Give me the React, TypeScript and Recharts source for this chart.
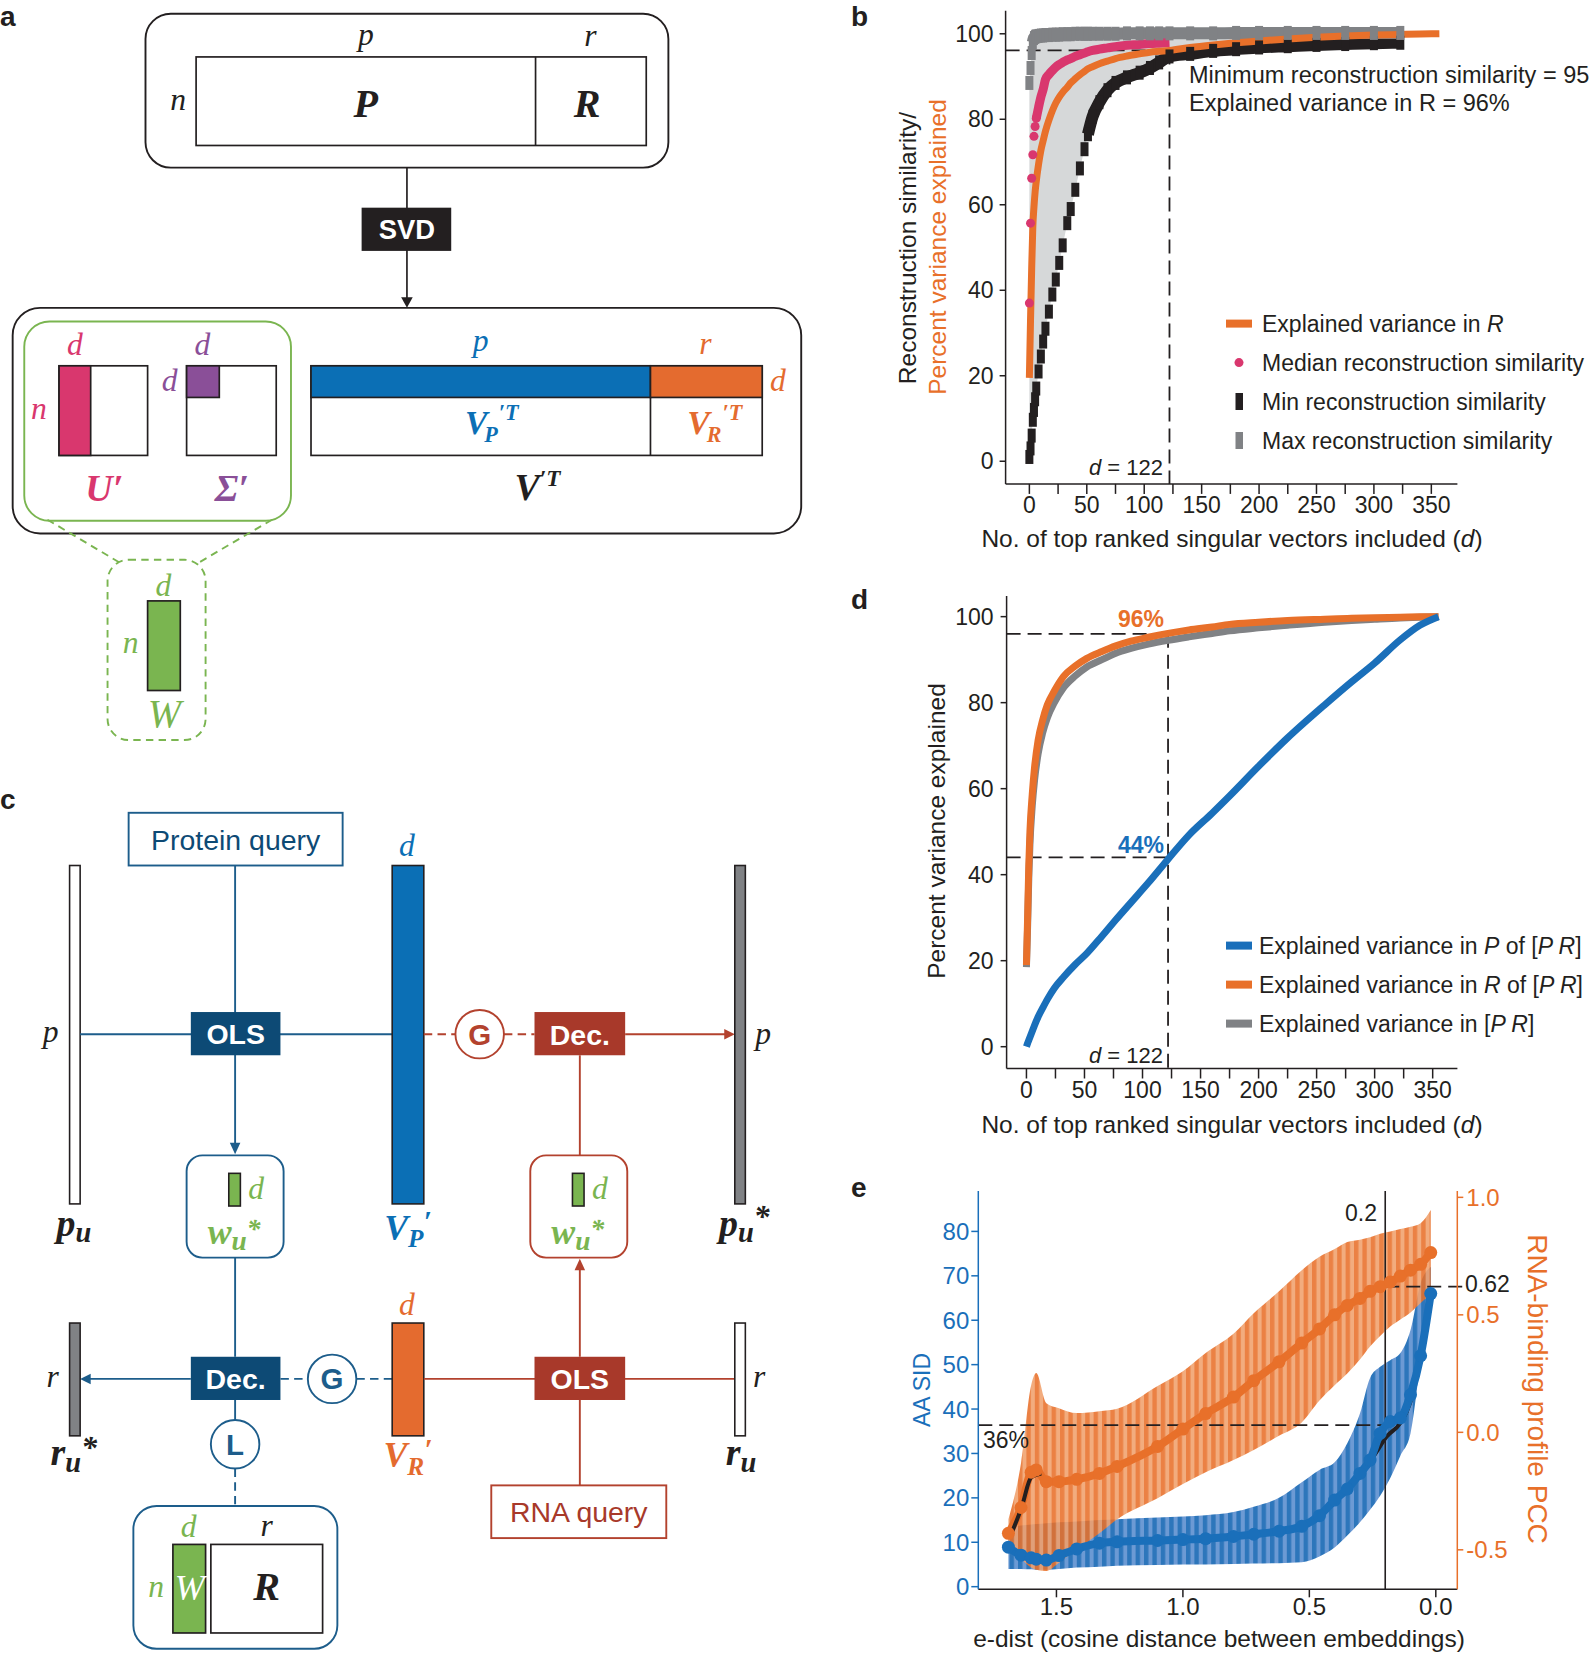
import React from "react";
import { ComposedChart, Line, Area, XAxis, YAxis, ReferenceLine } from "recharts";

const INK = "#231f20";
const ORANGE = "#e8702a";
const PINK = "#d9376e";
const GREY = "#808285";
const BAND = "#d6d8d9";
const BLUE = "#1a6fba";
const VBLUE = "#0b6fb5";
const VORANGE = "#e46b2f";
const PURPLE = "#8a4f98";
const GREEN = "#7ab550";
const CBLUE = "#1d5d8b";
const DBOX = "#0d4a75";
const RED = "#b3422e";
const RBOX = "#a8392a";
const SANS = "'Liberation Sans', Arial, Helvetica, sans-serif";
const SERIF = "'Liberation Serif', 'Times New Roman', serif";

// ---- panel b: reconstruction similarity vs d ----
const dB = [0, 1, 2, 3, 4, 5, 6, 8, 10, 12, 14, 17, 20, 23, 26, 29, 33, 36, 40, 44, 48, 51, 55, 61, 68, 75, 85, 96, 105, 113, 122, 140, 160, 180, 200, 225, 250, 275, 300, 323, 340, 357];
const minB = [1, 3, 6, 9.7, 12, 14.5, 17, 21, 24.5, 28, 31, 35, 39, 42.5, 46.4, 50.5, 55.7, 59, 63.5, 68.5, 73, 76.5, 80.6, 84, 86.8, 88.5, 89.8, 90.9, 92, 93.3, 94.7, 95.3, 96, 96.4, 96.8, 97.1, 97.4, 97.6, 97.8, 97.9, null, null];
const maxB = [88.5, 92, 95.5, 98, 99, 99.3, 99.4, 99.5, 99.6, 99.6, 99.7, 99.7, 99.8, 99.8, 99.8, 99.9, 99.9, 99.9, 100, 100, 100, 100, 100, 100, 100, 100, 100.1, 100.1, 100.1, 100.1, 100.1, 100.1, 100.1, 100.2, 100.2, 100.2, 100.2, 100.2, 100.2, 100.2, null, null];
const medB = [37, 55.7, 66.2, 71.7, 76, 78.3, 80.2, 82.8, 85.2, 87, 89.3, 90.5, 91.4, 92.2, 92.8, 93.3, 93.9, 94.2, 94.7, 95.1, 95.5, 95.8, 96.1, 96.4, 96.7, 97, 97.3, 97.5, 97.7, 97.8, 97.9, null, null, null, null, null, null, null, null, null, null, null];
const expRB = [19.5, 33, 45, 54.9, 59.5, 63, 65.5, 69.5, 72.7, 75, 77.2, 79.8, 82, 83.8, 85.2, 86.3, 87.5, 88.5, 89.5, 90.4, 91.2, 91.8, 92.3, 93, 93.6, 94.2, 94.8, 95.3, 95.7, 95.9, 96.1, 96.8, 97.4, 97.9, 98.3, 98.8, 99.2, 99.5, 99.7, 99.85, 99.95, 100];

// ---- panel d: explained variance ----
const dD = [0, 1, 2, 3, 5, 7, 10, 14, 18, 24, 32, 42, 52, 65, 77, 90, 105, 122, 140, 160, 175, 200, 225, 257, 280, 300, 322, 339, 355];
const pOfPR = [0, 0.8, 1.5, 2.2, 3.6, 5.0, 6.9, 9.0, 11.0, 13.6, 16.2, 19.1, 21.7, 25.7, 29.5, 33.5, 38.1, 43.6, 49.2, 54.3, 58.3, 65.2, 71.8, 79.5, 84.8, 89.2, 94.6, 98, 100];
const rOfPR = [19, 30, 42, 50, 58.7, 65, 71.2, 76, 79.5, 82.7, 86.1, 88.5, 90.3, 91.9, 93.2, 94.3, 95.2, 96.1, 96.9, 97.6, 98.2, 98.7, 99.1, 99.4, 99.6, 99.75, 99.85, 99.95, 100];
const allPR = [18.5, 28, 39, 47, 56, 62, 68, 73, 76.5, 80, 83.5, 86.2, 88.3, 90, 91.5, 92.6, 93.6, 94.5, 95.3, 96.1, 96.7, 97.4, 98, 98.7, 99.1, 99.4, 99.7, 99.85, 100];

// ---- panel e: AA SID and RNA-binding PCC vs e-dist ----
const eDist = [1.69, 1.64, 1.6, 1.58, 1.54, 1.49, 1.42, 1.33, 1.26, 1.1, 1.0, 0.91, 0.8, 0.72, 0.62, 0.53, 0.46, 0.4, 0.35, 0.3, 0.26, 0.22, 0.18, 0.14, 0.1, 0.06, 0.02];
const sidMean = [8.9, 7.1, 6.5, 6.2, 6.0, 7.0, 8.5, 9.8, 10.1, 10.4, 10.6, 10.8, 11.3, 11.8, 12.5, 13.6, 16.0, 19.5, 22.0, 25.5, 28.5, 34.5, 37.2, 38.0, 43.2, 52.0, 66.0];
const sidLow = [4.0, 4.0, 3.9, 3.8, 3.8, 4.0, 4.3, 4.5, 4.7, 4.9, 5.0, 5.0, 5.1, 5.2, 5.3, 5.5, 6.8, 8.8, 11.5, 14.5, 17.3, 20.5, 24.5, 29.5, 34.5, 50.3, 61.6];
const sidHigh = [13.5, 13.8, 14.0, 14.1, 14.3, 14.5, 14.7, 15.0, 15.2, 15.6, 15.8, 16.1, 16.8, 18.0, 20.0, 23.5, 26.3, 28.0, 32.3, 39.0, 47.0, 49.5, 51.0, 52.6, 57.8, 68.3, 72.0];
const pccMean = [-0.43, -0.32, -0.17, -0.16, -0.21, -0.21, -0.2, -0.175, -0.145, -0.06, 0.014, 0.08, 0.15, 0.22, 0.3, 0.38, 0.44, 0.5, 0.54, 0.57, 0.6, 0.62, 0.64, 0.665, 0.69, 0.715, 0.765];
const pccLow = [-0.5, -0.54, -0.575, -0.585, -0.59, -0.555, -0.5, -0.43, -0.37, -0.28, -0.22, -0.17, -0.118, -0.075, -0.015, 0.042, 0.135, 0.2, 0.25, 0.31, 0.365, 0.41, 0.45, 0.48, 0.51, 0.55, 0.59];
const pccHigh = [-0.37, -0.13, 0.2, 0.252, 0.124, 0.103, 0.082, 0.09, 0.1, 0.197, 0.26, 0.338, 0.42, 0.507, 0.6, 0.69, 0.747, 0.78, 0.81, 0.82, 0.83, 0.845, 0.855, 0.865, 0.875, 0.89, 0.946];
const trendLeftE = [1.683, 1.637, 1.6, 1.56];
const trendLeftV = [11.3, 18.0, 24.6, 25.5];
const trendRightE = [0.326, 0.3, 0.247, 0.194, 0.141, 0.102, 0.062, 0.025, 0.016];
const trendRightV = [24.0, 25.5, 29.3, 33.8, 36.8, 41.3, 51.8, 62.5, 66.0];

const xTicksD = [0, 25, 50, 75, 100, 125, 150, 175, 200, 225, 250, 275, 300, 325, 350];
const yTicks100 = [0, 20, 40, 60, 80, 100];

const rowsB = dB.map((d, i) => ({
  d,
  band: minB[i] != null ? [minB[i], maxB[i]] : null,
  min: minB[i],
  minFlat: minB[i] != null && d >= 51 ? minB[i] : null,
  max: maxB[i],
  maxFlat: maxB[i] != null && d >= 3 ? maxB[i] : null,
  medDot: d <= 6 ? medB[i] : null,
  medLine: medB[i] != null && d >= 6 ? medB[i] : null,
  expR: expRB[i],
}));

const rowsD = dD.map((d, i) => ({ d, p: pOfPR[i], r: rOfPR[i], all: allPR[i] }));

const rowsE = eDist.map((e, i) => ({
  e,
  sid: sidMean[i],
  sidBand: [sidLow[i], sidHigh[i]],
  pcc: pccMean[i],
  pccBand: [pccLow[i], pccHigh[i]],
}));
const trendLeft = trendLeftE.map((e, i) => ({ e, v: trendLeftV[i] }));
const trendRight = trendRightE.map((e, i) => ({ e, v: trendRightV[i] }));

const AX = { stroke: INK, strokeWidth: 1.5 };
const TICK = { fill: INK, fontSize: 23, fontFamily: SANS };

const barDot = (fill: string) => (p: any) => {
  if (p.value == null || !Number.isFinite(p.cy)) return <g key={p.index} />;
  return <rect key={p.index} x={p.cx - 4} y={p.cy - 7} width={8} height={14} fill={fill} />;
};
const roundDot = (fill: string) => (p: any) => {
  if (p.value == null || !Number.isFinite(p.cy)) return <g key={p.index} />;
  return <circle key={p.index} cx={p.cx} cy={p.cy} r={4.5} fill={fill} />;
};

const SparseTick = (p: any) => {
  const v = p.payload.value;
  if (v % 50 !== 0) return <g />;
  return (
    <text x={p.x} y={p.y + 17} textAnchor="middle" fontSize={23} fontFamily={SANS} fill={INK}>
      {v}
    </text>
  );
};

function ChartB() {
  return (
    <ComposedChart width={744} height={560} data={rowsB} margin={{ top: 10.7, right: 136.6, bottom: 0, left: 0 }}>
      <XAxis type="number" dataKey="d" domain={[-20.7, 372.7]} allowDataOverflow ticks={xTicksD} interval={0}
        height={76.1} tickSize={10} tickMargin={2} tick={SparseTick} axisLine={AX} tickLine={AX} />
      <YAxis type="number" domain={[-5.3, 105.4]} allowDataOverflow ticks={yTicks100} interval={0}
        width={155.6} tickSize={6} tickMargin={6} tick={TICK} axisLine={AX} tickLine={AX} />
      <Area dataKey="band" type="linear" stroke="none" fill={BAND} fillOpacity={1} isAnimationActive={false} />
      <ReferenceLine segment={[{ x: -20.7, y: 96.1 }, { x: 122, y: 96.1 }]} stroke={INK} strokeWidth={1.8} strokeDasharray="14 7" />
      <ReferenceLine segment={[{ x: 122, y: 96.1 }, { x: 122, y: -5.3 }]} stroke={INK} strokeWidth={1.8} strokeDasharray="14 7" />
      <Line dataKey="minFlat" type="monotone" stroke={INK} strokeWidth={12} dot={false} isAnimationActive={false} />
      <Line dataKey="min" stroke="none" dot={barDot(INK)} activeDot={false} isAnimationActive={false} />
      <Line dataKey="maxFlat" type="monotone" stroke={GREY} strokeWidth={12} dot={false} isAnimationActive={false} />
      <Line dataKey="max" stroke="none" dot={barDot(GREY)} activeDot={false} isAnimationActive={false} />
      <Line dataKey="medDot" stroke="none" dot={roundDot(PINK)} activeDot={false} isAnimationActive={false} />
      <Line dataKey="medLine" type="monotone" stroke={PINK} strokeWidth={9} dot={false} isAnimationActive={false} />
      <Line dataKey="expR" type="monotone" stroke={ORANGE} strokeWidth={7} dot={false} isAnimationActive={false} />
    </ComposedChart>
  );
}

function ChartD() {
  return (
    <ComposedChart width={744} height={560} data={rowsD} margin={{ top: 16, right: 136.6, bottom: 0, left: 0 }}>
      <XAxis type="number" dataKey="d" domain={[-17.1, 371.3]} allowDataOverflow ticks={xTicksD} interval={0}
        height={71.5} tickSize={10} tickMargin={2} tick={SparseTick} axisLine={AX} tickLine={AX} />
      <YAxis type="number" domain={[-5.07, 104.8]} allowDataOverflow ticks={yTicks100} interval={0}
        width={156.6} tickSize={6} tickMargin={7} tick={TICK} axisLine={AX} tickLine={AX} />
      <ReferenceLine segment={[{ x: -17.1, y: 96 }, { x: 122, y: 96 }]} stroke={INK} strokeWidth={1.8} strokeDasharray="14 7" />
      <ReferenceLine segment={[{ x: -17.1, y: 44 }, { x: 122, y: 44 }]} stroke={INK} strokeWidth={1.8} strokeDasharray="14 7" />
      <ReferenceLine segment={[{ x: 122, y: 96 }, { x: 122, y: -5.07 }]} stroke={INK} strokeWidth={1.8} strokeDasharray="14 7" />
      <Line dataKey="all" type="monotone" stroke={GREY} strokeWidth={7} dot={false} isAnimationActive={false} />
      <Line dataKey="r" type="monotone" stroke={ORANGE} strokeWidth={7} dot={false} isAnimationActive={false} />
      <Line dataKey="p" type="monotone" stroke={BLUE} strokeWidth={7} dot={false} isAnimationActive={false} />
    </ComposedChart>
  );
}

function ChartE() {
  return (
    <ComposedChart width={744} height={493} data={rowsE} margin={{ top: 31, right: 0, bottom: 0, left: 0 }}>
      <XAxis type="number" dataKey="e" domain={[-0.085, 1.809]} reversed allowDataOverflow ticks={[0, 0.5, 1, 1.5]} interval={0}
        tickFormatter={(v: number) => v.toFixed(1)} height={63.7} tickSize={8} tickMargin={1}
        tick={{ fill: INK, fontSize: 24, fontFamily: SANS }} axisLine={AX} tickLine={AX} />
      <YAxis yAxisId="l" orientation="left" type="number" domain={[-0.59, 89.1]} allowDataOverflow
        ticks={[0, 10, 20, 30, 40, 50, 60, 70, 80]} interval={0} width={128.3} tickSize={7} tickMargin={2}
        tick={{ fill: BLUE, fontSize: 24, fontFamily: SANS }} axisLine={{ stroke: BLUE, strokeWidth: 1.5 }} tickLine={{ stroke: BLUE, strokeWidth: 1.5 }} />
      <YAxis yAxisId="r" orientation="right" type="number" domain={[-0.668, 1.027]} allowDataOverflow
        ticks={[-0.5, 0, 0.5, 1]} interval={0} tickFormatter={(v: number) => v.toFixed(1)} width={136.7} tickSize={6} tickMargin={3}
        tick={{ fill: ORANGE, fontSize: 24, fontFamily: SANS }} axisLine={{ stroke: ORANGE, strokeWidth: 1.5 }} tickLine={{ stroke: ORANGE, strokeWidth: 1.5 }} />
      <Area yAxisId="l" dataKey="sidBand" type="monotone" stroke="none" fill="url(#stripeB)" fillOpacity={0.92} isAnimationActive={false} />
      <Area yAxisId="r" dataKey="pccBand" type="monotone" stroke="none" fill="url(#stripeO)" fillOpacity={0.88} isAnimationActive={false} />
      <ReferenceLine yAxisId="l" x={0.2} stroke={INK} strokeWidth={1.6} />
      <ReferenceLine yAxisId="l" segment={[{ x: 1.809, y: 36.4 }, { x: 0.2, y: 36.4 }]} stroke={INK} strokeWidth={1.8} strokeDasharray="14 7" />
      <ReferenceLine yAxisId="r" segment={[{ x: 0.2, y: 0.62 }, { x: -0.11, y: 0.62 }]} ifOverflow="visible" stroke={INK} strokeWidth={1.8} strokeDasharray="14 7" />
      <Line yAxisId="r" dataKey="pcc" type="monotone" stroke={ORANGE} strokeWidth={8} dot={{ r: 6.5, fill: ORANGE, stroke: "none" }} activeDot={false} isAnimationActive={false} />
      <Line yAxisId="l" data={trendLeft} dataKey="v" type="monotone" stroke={INK} strokeWidth={4} dot={false} isAnimationActive={false} />
      <Line yAxisId="l" data={trendRight} dataKey="v" type="monotone" stroke={INK} strokeWidth={4} dot={false} isAnimationActive={false} />
      <Line yAxisId="l" dataKey="sid" type="monotone" stroke={BLUE} strokeWidth={8} dot={{ r: 6.5, fill: BLUE, stroke: "none" }} activeDot={false} isAnimationActive={false} />
    </ComposedChart>
  );
}

const I = ({ x, y, s = 30, fill = INK, b = false, a = "middle", children }: any) => (
  <text x={x} y={y} fontSize={s} fill={fill} fontFamily={SERIF} fontStyle="italic" fontWeight={b ? "bold" : "normal"} textAnchor={a}>
    {children}
  </text>
);
const BoxText = ({ x, y, fill = "#fff", s = 27, children }: any) => (
  <text x={x} y={y} fontSize={s} fill={fill} fontFamily={SANS} fontWeight="bold" textAnchor="middle">{children}</text>
);

function Diagram() {
  const sw = 1.8;
  return (
    <svg width={1594} height={1653} viewBox="0 0 1512 1568" style={{ position: "absolute", left: 0, top: 0 }}>
      <defs>
        <pattern id="stripeO" patternUnits="userSpaceOnUse" width={8.4} height={20}>
          <rect width={8.4} height={20} fill="#f0a06c" />
          <rect width={4.4} height={20} fill="#e8702a" />
        </pattern>
        <pattern id="stripeB" patternUnits="userSpaceOnUse" width={8.4} height={20}>
          <rect width={8.4} height={20} fill="#5f91d0" />
          <rect width={4.4} height={20} fill="#1b6ab5" />
        </pattern>
      </defs>
      {/* panel a */}
      <rect x={138} y={13} width={496} height={146} rx={24} fill="none" stroke={INK} strokeWidth={sw} />
      <rect x={186} y={54} width={427} height={84} fill="#fff" stroke={INK} strokeWidth={1.6} />
      <line x1={508} y1={54} x2={508} y2={138} stroke={INK} strokeWidth={1.6} />
      <I x={347} y={43}>p</I>
      <I x={560} y={44}>r</I>
      <I x={169} y={104}>n</I>
      <I x={347} y={111} s={38} b>P</I>
      <I x={557} y={111} s={38} b>R</I>
      <line x1={386} y1={159} x2={386} y2={284} stroke={INK} strokeWidth={1.6} />
      <polygon points="380.5,282 391.5,282 386,292" fill={INK} />
      <rect x={343} y={197} width={85} height={41} fill={INK} />
      <BoxText x={386} y={227} s={26}>SVD</BoxText>

      <rect x={12} y={292} width={748} height={214} rx={26} fill="none" stroke={INK} strokeWidth={sw} />
      <rect x={23} y={305} width={253} height={189} rx={24} fill="none" stroke={GREEN} strokeWidth={sw} />
      <rect x={56} y={347} width={84} height={85} fill="#fff" stroke={INK} strokeWidth={1.6} />
      <rect x={56} y={347} width={30} height={85} fill={PINK} stroke={INK} strokeWidth={1.6} />
      <I x={71} y={337} fill={PINK}>d</I>
      <I x={37} y={397} fill={PINK}>n</I>
      <I x={99} y={475} s={36} b fill={PINK}>U′</I>
      <rect x={177} y={347} width={85} height={85} fill="#fff" stroke={INK} strokeWidth={1.6} />
      <rect x={177} y={347} width={31} height={30} fill={PURPLE} stroke={INK} strokeWidth={1.6} />
      <I x={192} y={337} fill={PURPLE}>d</I>
      <I x={161} y={371} fill={PURPLE}>d</I>
      <I x={220} y={475} s={36} b fill={PURPLE}>Σ′</I>
      <rect x={295} y={347} width={428} height={85} fill="#fff" stroke={INK} strokeWidth={1.6} />
      <rect x={295} y={347} width={322} height={30} fill={VBLUE} stroke={INK} strokeWidth={1.6} />
      <rect x={617} y={347} width={106} height={30} fill={VORANGE} stroke={INK} strokeWidth={1.6} />
      <line x1={617} y1={377} x2={617} y2={432} stroke={INK} strokeWidth={1.6} />
      <I x={456} y={333} fill={VBLUE}>p</I>
      <I x={669} y={336} fill={VORANGE}>r</I>
      <I x={738} y={371} fill={VORANGE}>d</I>
      <text x={441} y={412} fontSize={32} fill={VBLUE} fontFamily={SERIF} fontStyle="italic" fontWeight="bold">
        V<tspan fontSize={21} dx={-3} dy={7}>P</tspan><tspan fontSize={21} dx={1} dy={-21}>′T</tspan>
      </text>
      <text x={652} y={412} fontSize={32} fill={VORANGE} fontFamily={SERIF} fontStyle="italic" fontWeight="bold">
        V<tspan fontSize={21} dx={-3} dy={7}>R</tspan><tspan fontSize={21} dx={1} dy={-21}>′T</tspan>
      </text>
      <text x={488} y={474} fontSize={36} fill={INK} fontFamily={SERIF} fontStyle="italic" fontWeight="bold">
        V<tspan fontSize={22} dy={-13}>′T</tspan>
      </text>
      <line x1={45} y1={493} x2={114} y2={534} stroke={GREEN} strokeWidth={sw} strokeDasharray="7 5" />
      <line x1={258} y1={493} x2={188} y2={534} stroke={GREEN} strokeWidth={sw} strokeDasharray="7 5" />
      <rect x={102} y={531} width={93} height={171} rx={20} fill="none" stroke={GREEN} strokeWidth={sw} strokeDasharray="7 5" />
      <rect x={140} y={570} width={31} height={85} fill={GREEN} stroke={INK} strokeWidth={1.6} />
      <I x={155} y={565} fill={GREEN}>d</I>
      <I x={124} y={619} fill={GREEN}>n</I>
      <I x={156} y={690} s={38} fill={GREEN}>W</I>

      {/* panel c */}
      <rect x={122} y={771} width={203} height={50} fill="#fff" stroke={CBLUE} strokeWidth={sw} />
      <text x={223.5} y={806} fontSize={27} fill={DBOX} fontFamily={SANS} textAnchor="middle">Protein query</text>
      <line x1={223} y1={821} x2={223} y2={1086} stroke={CBLUE} strokeWidth={sw} />
      <polygon points="218,1084 228,1084 223,1095" fill={CBLUE} />
      <rect x={66} y={821} width={10} height={321} fill="#fff" stroke={INK} strokeWidth={1.5} />
      <line x1={76} y1={981} x2={372} y2={981} stroke={CBLUE} strokeWidth={sw} />
      <rect x={181} y={960} width={85} height={41} fill={DBOX} />
      <BoxText x={223.5} y={990}>OLS</BoxText>
      <rect x={372} y={821} width={30} height={321} fill={VBLUE} stroke={INK} strokeWidth={1.5} />
      <line x1={402} y1={981} x2={432} y2={981} stroke={RED} strokeWidth={sw} strokeDasharray="8 5" />
      <circle cx={455} cy={981} r={23} fill="#fff" stroke={RED} strokeWidth={sw} />
      <BoxText x={455} y={991} fill={RED} s={28}>G</BoxText>
      <line x1={478} y1={981} x2={507} y2={981} stroke={RED} strokeWidth={sw} strokeDasharray="8 5" />
      <rect x={507} y={960} width={86} height={41} fill={RBOX} />
      <BoxText x={550} y={991}>Dec.</BoxText>
      <line x1={593} y1={981} x2={688} y2={981} stroke={RED} strokeWidth={sw} />
      <polygon points="687,976 687,986 697,981" fill={RED} />
      <rect x={697} y={821} width={10} height={321} fill={GREY} stroke={INK} strokeWidth={1.5} />
      <I x={48} y={988}>p</I>
      <I x={724} y={990}>p</I>
      <I x={386} y={812} fill={VBLUE}>d</I>
      <text x={70} y={1172} fontSize={36} fill={INK} fontFamily={SERIF} fontStyle="italic" fontWeight="bold" textAnchor="middle">
        p<tspan fontSize={27} dy={6}>u</tspan>
      </text>
      <text x={387} y={1176} fontSize={34} fill={VBLUE} fontFamily={SERIF} fontStyle="italic" fontWeight="bold" textAnchor="middle">
        V<tspan fontSize={24} dy={7}>P</tspan><tspan fontSize={28} dy={-15}>′</tspan>
      </text>
      <text x={706} y={1172} fontSize={36} fill={INK} fontFamily={SERIF} fontStyle="italic" fontWeight="bold" textAnchor="middle">
        p<tspan fontSize={27} dy={6}>u</tspan><tspan fontSize={30} dy={-14}>*</tspan>
      </text>
      <line x1={550} y1={1001} x2={550} y2={1096} stroke={RED} strokeWidth={sw} />

      <rect x={177} y={1096} width={92} height={97} rx={15} fill="#fff" stroke={CBLUE} strokeWidth={sw} />
      <rect x={217} y={1113} width={11} height={31} fill={GREEN} stroke={INK} strokeWidth={1.5} />
      <I x={243} y={1137} fill={GREEN}>d</I>
      <text x={222} y={1180} fontSize={34} fill={GREEN} fontFamily={SERIF} fontStyle="italic" fontWeight="bold" textAnchor="middle">
        w<tspan fontSize={26} dy={6}>u</tspan><tspan fontSize={26} dy={-12}>*</tspan>
      </text>
      <rect x={503} y={1096} width={92} height={97} rx={15} fill="#fff" stroke={RED} strokeWidth={sw} />
      <rect x={543} y={1113} width={11} height={31} fill={GREEN} stroke={INK} strokeWidth={1.5} />
      <I x={569} y={1137} fill={GREEN}>d</I>
      <text x={548} y={1180} fontSize={34} fill={GREEN} fontFamily={SERIF} fontStyle="italic" fontWeight="bold" textAnchor="middle">
        w<tspan fontSize={26} dy={6}>u</tspan><tspan fontSize={26} dy={-12}>*</tspan>
      </text>

      <line x1={223} y1={1193} x2={223} y2={1287} stroke={CBLUE} strokeWidth={sw} />
      <line x1={181} y1={1308} x2={84} y2={1308} stroke={CBLUE} strokeWidth={sw} />
      <polygon points="86,1303 86,1313 76,1308" fill={CBLUE} />
      <rect x={181} y={1287} width={85} height={41} fill={DBOX} />
      <BoxText x={223.5} y={1318}>Dec.</BoxText>
      <rect x={66} y={1255} width={10} height={107} fill={GREY} stroke={INK} strokeWidth={1.5} />
      <I x={50} y={1316}>r</I>
      <text x={70} y={1390} fontSize={36} fill={INK} fontFamily={SERIF} fontStyle="italic" fontWeight="bold" textAnchor="middle">
        r<tspan fontSize={27} dy={6}>u</tspan><tspan fontSize={30} dy={-13}>*</tspan>
      </text>
      <line x1={266} y1={1308} x2={292} y2={1308} stroke={CBLUE} strokeWidth={sw} strokeDasharray="8 5" />
      <circle cx={315} cy={1308} r={23} fill="#fff" stroke={CBLUE} strokeWidth={sw} />
      <BoxText x={315} y={1318} fill={CBLUE} s={28}>G</BoxText>
      <line x1={338} y1={1308} x2={372} y2={1308} stroke={CBLUE} strokeWidth={sw} strokeDasharray="8 5" />
      <rect x={372} y={1255} width={30} height={107} fill={VORANGE} stroke={INK} strokeWidth={1.5} />
      <I x={386} y={1247} fill={VORANGE}>d</I>
      <text x={387} y={1392} fontSize={34} fill={VORANGE} fontFamily={SERIF} fontStyle="italic" fontWeight="bold" textAnchor="middle">
        V<tspan fontSize={24} dy={7}>R</tspan><tspan fontSize={28} dy={-15}>′</tspan>
      </text>
      <line x1={402} y1={1308} x2={697} y2={1308} stroke={RED} strokeWidth={sw} />
      <rect x={507} y={1287} width={86} height={41} fill={RBOX} />
      <BoxText x={550} y={1318}>OLS</BoxText>
      <rect x={697} y={1255} width={10} height={107} fill="#fff" stroke={INK} strokeWidth={1.5} />
      <I x={720} y={1316}>r</I>
      <text x={703} y={1390} fontSize={36} fill={INK} fontFamily={SERIF} fontStyle="italic" fontWeight="bold" textAnchor="middle">
        r<tspan fontSize={27} dy={6}>u</tspan>
      </text>
      <line x1={550} y1={1287} x2={550} y2={1204} stroke={RED} strokeWidth={sw} />
      <polygon points="545,1205 555,1205 550,1194" fill={RED} />
      <line x1={550} y1={1328} x2={550} y2={1409} stroke={RED} strokeWidth={sw} />
      <rect x={466} y={1409} width={166} height={50} fill="#fff" stroke={RED} strokeWidth={sw} />
      <text x={549} y={1444} fontSize={27} fill={RBOX} fontFamily={SANS} textAnchor="middle">RNA query</text>

      <line x1={223} y1={1328} x2={223} y2={1347} stroke={CBLUE} strokeWidth={sw} />
      <circle cx={223} cy={1370} r={23} fill="#fff" stroke={CBLUE} strokeWidth={sw} />
      <BoxText x={223} y={1380} fill={CBLUE} s={28}>L</BoxText>
      <line x1={223} y1={1393} x2={223} y2={1428} stroke={CBLUE} strokeWidth={sw} strokeDasharray="8 5" />
      <rect x={126.5} y={1428.5} width={193.5} height={135.5} rx={22} fill="none" stroke={CBLUE} strokeWidth={sw} />
      <rect x={164} y={1465} width={31} height={84} fill={GREEN} stroke={INK} strokeWidth={1.6} />
      <rect x={200} y={1465} width={106} height={84} fill="#fff" stroke={INK} strokeWidth={1.6} />
      <I x={179} y={1458} fill={GREEN}>d</I>
      <I x={253} y={1457}>r</I>
      <I x={148} y={1515} fill={GREEN}>n</I>
      <I x={180} y={1518} s={34} fill="#fff">W</I>
      <I x={253} y={1518} s={38} b>R</I>
    </svg>
  );
}

function Overlay() {
  const t = { fontFamily: SANS, fill: INK };
  return (
    <svg width={1594} height={1653} style={{ position: "absolute", left: 0, top: 0, pointerEvents: "none" }}>
      <g fontFamily={SANS} fontWeight="bold" fontSize={28} fill={INK}>
        <text x={0} y={26}>a</text>
        <text x={851} y={26}>b</text>
        <text x={0} y={809}>c</text>
        <text x={851} y={609}>d</text>
        <text x={851} y={1197}>e</text>
      </g>

      {/* panel b text */}
      <text {...t} fontSize={24.5} textAnchor="middle" x={907} y={248} dy="0.35em" transform="rotate(-90 907 248)">Reconstruction similarity/</text>
      <text {...t} fill={ORANGE} fontSize={24.5} textAnchor="middle" x={937} y={247} dy="0.35em" transform="rotate(-90 937 247)">Percent variance explained</text>
      <text {...t} fontSize={24.5} textAnchor="middle" x={1232} y={547}>No. of top ranked singular vectors included (<tspan fontStyle="italic">d</tspan>)</text>
      <text {...t} fontSize={23.5} x={1189} y={83}>Minimum reconstruction similarity = 95</text>
      <text {...t} fontSize={23.5} x={1189} y={111}>Explained variance in R = 96%</text>
      <text {...t} fontSize={22} textAnchor="end" x={1163} y={475}><tspan fontStyle="italic">d</tspan> = 122</text>
      <rect x={1226} y={319.6} width={26} height={8} fill={ORANGE} />
      <text {...t} fontSize={23} x={1262} y={331.6}>Explained variance in <tspan fontStyle="italic">R</tspan></text>
      <circle cx={1239} cy={362.6} r={4.5} fill={PINK} />
      <text {...t} fontSize={23} x={1262} y={370.6}>Median reconstruction similarity</text>
      <rect x={1235.5} y={393} width={7.5} height={17} fill={INK} />
      <text {...t} fontSize={23} x={1262} y={409.6}>Min reconstruction similarity</text>
      <rect x={1235.5} y={432} width={7.5} height={17} fill={GREY} />
      <text {...t} fontSize={23} x={1262} y={448.7}>Max reconstruction similarity</text>

      {/* panel d text */}
      <text {...t} fontSize={24.5} textAnchor="middle" x={936} y={831} dy="0.35em" transform="rotate(-90 936 831)">Percent variance explained</text>
      <text {...t} fontSize={24.5} textAnchor="middle" x={1232} y={1133}>No. of top ranked singular vectors included (<tspan fontStyle="italic">d</tspan>)</text>
      <text {...t} fill={ORANGE} fontWeight="bold" fontSize={23} textAnchor="end" x={1164} y={627}>96%</text>
      <text {...t} fill={BLUE} fontWeight="bold" fontSize={23} textAnchor="end" x={1164} y={853}>44%</text>
      <text {...t} fontSize={22} textAnchor="end" x={1163} y={1063}><tspan fontStyle="italic">d</tspan> = 122</text>
      <rect x={1226} y={941.6} width={26} height={8} fill={BLUE} />
      <text {...t} fontSize={23} x={1259} y={953.6}>Explained variance in <tspan fontStyle="italic">P</tspan> of [<tspan fontStyle="italic">P R</tspan>]</text>
      <rect x={1226} y={980.6} width={26} height={8} fill={ORANGE} />
      <text {...t} fontSize={23} x={1259} y={992.6}>Explained variance in <tspan fontStyle="italic">R</tspan> of [<tspan fontStyle="italic">P R</tspan>]</text>
      <rect x={1226} y={1019.6} width={26} height={8} fill={GREY} />
      <text {...t} fontSize={23} x={1259} y={1031.6}>Explained variance in [<tspan fontStyle="italic">P R</tspan>]</text>

      {/* panel e text */}
      <text {...t} fill={BLUE} fontSize={23} textAnchor="middle" x={922} y={1390} dy="0.35em" transform="rotate(-90 922 1390)">AA SID</text>
      <text {...t} fill={ORANGE} fontSize={28} textAnchor="middle" x={1538} y={1389} dy="0.35em" transform="rotate(90 1538 1389)">RNA-binding profile PCC</text>
      <text {...t} fontSize={24.5} textAnchor="middle" x={1219} y={1647}>e-dist (cosine distance between embeddings)</text>
      <text {...t} fontSize={23} textAnchor="end" x={1377} y={1221}>0.2</text>
      <text {...t} fontSize={23} x={983} y={1448}>36%</text>
      <text {...t} fontSize={23} x={1465} y={1292}>0.62</text>
    </svg>
  );
}

export default function App() {
  return (
    <div style={{ position: "absolute", left: 0, top: 0, width: 1594, height: 1653, background: "#fff", overflow: "hidden" }}>
      <Diagram />
      <div style={{ position: "absolute", left: 850, top: 0 }}>
        <ChartB />
      </div>
      <div style={{ position: "absolute", left: 850, top: 580 }}>
        <ChartD />
      </div>
      <div style={{ position: "absolute", left: 850, top: 1160 }}>
        <ChartE />
      </div>
      <Overlay />
    </div>
  );
}
